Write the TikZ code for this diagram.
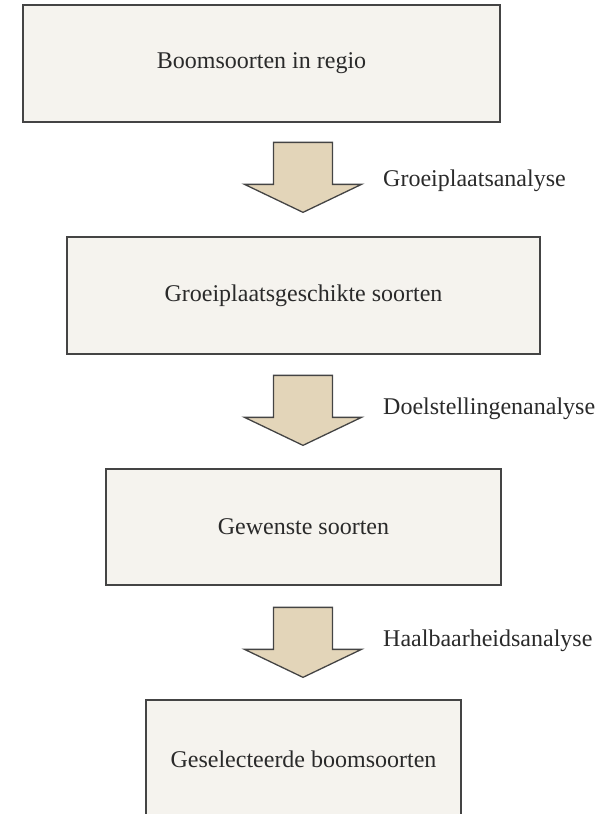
\documentclass[tikz,border=0pt]{standalone}
\usepackage{fontspec}
\setmainfont{Liberation Serif}
\usetikzlibrary{calc}

\definecolor{boxfill}{HTML}{F5F3EE}
\definecolor{boxline}{HTML}{444444}
\definecolor{arrowfill}{HTML}{E3D5B9}
\definecolor{ink}{HTML}{2A2A2A}

\tikzset{
  stagebox/.style={draw=boxline, line width=1.3pt, fill=boxfill, rectangle,
    inner sep=0pt, text=ink, font=\fontsize{24}{28}\selectfont},
  steplabel/.style={anchor=base west, inner sep=0pt, text=ink,
    font=\fontsize{24}{28}\selectfont},
  blockarrow/.style={draw=boxline, line width=1.3pt, fill=arrowfill, line join=miter},
  pics/downarrow/.style={code={
    % origin at the tip; shaft 59 wide, head 117 wide and 28 long
    \draw[blockarrow] (0,0) -- (58.5,-28) -- (29.5,-28) -- (29.5,-70)
      -- (-29.5,-70) -- (-29.5,-28) -- (-58.5,-28) -- cycle;
  }}
}

\begin{document}
\begin{tikzpicture}[x=1pt, y=-1pt]
  \useasboundingbox (0,0) rectangle (606,814);
  \clip (0,0) rectangle (606,814);

  % stages
  \node[stagebox, minimum width=477pt, minimum height=117pt] (b1) at (261.5,63.5) {Boomsoorten in regio};
  \node[stagebox, minimum width=473pt, minimum height=117pt] (b2) at (303.5,295.5) {Groeiplaatsgeschikte soorten};
  \node[stagebox, minimum width=395pt, minimum height=116pt] (b3) at (303.5,527) {Gewenste soorten};
  \node[stagebox, minimum width=315pt, minimum height=118pt] (b4) at (303.5,759) {Geselecteerde boomsoorten};

  % block arrows between the stages, tip just above the next box
  \pic at ($(b2.north)+(-0.5,-24)$) {downarrow};
  \pic at ($(b3.north)+(-0.5,-23)$) {downarrow};
  \pic at ($(b4.north)+(-0.5,-22)$) {downarrow};

  % analysis steps
  \node[steplabel] (l1) at (383,186) {Groeiplaatsanalyse};
  \node[steplabel] (l2) at (383,414) {Doelstellingenanalyse};
  \node[steplabel] (l3) at (383,646) {Haalbaarheidsanalyse};
\end{tikzpicture}
\end{document}
